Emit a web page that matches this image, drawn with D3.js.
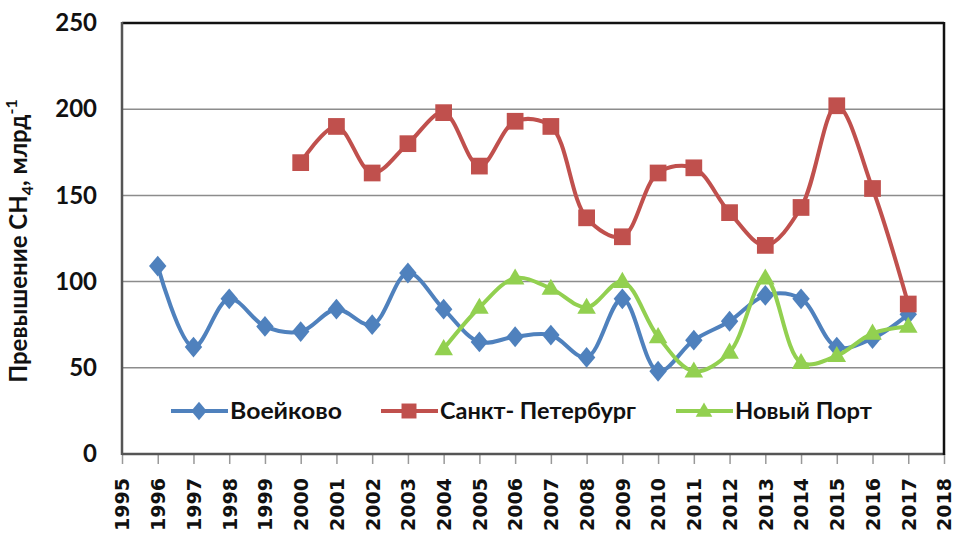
<!DOCTYPE html>
<html><head><meta charset="utf-8">
<script src="https://cdn.jsdelivr.net/npm/d3@7"></script>
<style>body{margin:0;background:#fff}svg{display:block}</style>
</head><body>
<svg id="c" width="956" height="533"></svg>
<script>
const years = [1995,1996,1997,1998,1999,2000,2001,2002,2003,2004,2005,2006,2007,2008,2009,2010,2011,2012,2013,2014,2015,2016,2017,2018];
const yTicks = [0,50,100,150,200,250];
const voeikovoYears = [1996,1997,1998,1999,2000,2001,2002,2003,2004,2005,2006,2007,2008,2009,2010,2011,2012,2013,2014,2015,2016,2017];
const voeikovo = [109,62,90,74,71,84,75,105,84,65,68,69,56,90,48,66,77,92,90,62,67,81];
const spbYears = [2000,2001,2002,2003,2004,2005,2006,2007,2008,2009,2010,2011,2012,2013,2014,2015,2016,2017];
const spb = [169,190,163,180,198,167,193,190,137,126,163,166,140,121,143,202,154,87];
const nportYears = [2004,2005,2006,2007,2008,2009,2010,2011,2012,2013,2014,2015,2016,2017];
const nport = [61,85,102,96,85,100,68,48,59,102,53,57,70,74];
const seriesNames = ["Воейково","Санкт- Петербург","Новый Порт"];
const colors = ["#4F81BD","#C0504D","#92D050"];

const svg = d3.select("#c");
const L=122,R=944,T=23,B=454;
const x = d3.scaleLinear().domain([1995,2018]).range([L,R]);
const y = d3.scaleLinear().domain([0,250]).range([B,T]);
const font = "Lato, 'Open Sans', sans-serif";

// gridlines
svg.append("g").selectAll("line").data(yTicks.filter(v=>v>0&&v<250)).join("line")
  .attr("x1",L).attr("x2",R).attr("y1",d=>y(d)).attr("y2",d=>y(d))
  .attr("stroke","#8c8c8c").attr("stroke-width",1.5);

// y axis
const ya = svg.append("g").attr("transform",`translate(${L},0)`)
  .call(d3.axisLeft(y).tickValues(yTicks).tickSize(0).tickPadding(25));
ya.select(".domain").remove();
ya.selectAll("text").attr("font-family",font).attr("font-weight","bold").attr("font-size",24).attr("fill","#111");

// x axis
const xa = svg.append("g").attr("transform",`translate(0,${B})`)
  .call(d3.axisBottom(x).tickValues(years).tickFormat(d3.format("d")).tickSize(10).tickSizeOuter(0));
xa.select(".domain").remove();
xa.selectAll(".tick line").attr("stroke","#999").attr("stroke-width",1.5);
xa.selectAll("text").attr("font-family","'DejaVu Sans', sans-serif").attr("font-weight","bold").attr("font-size",19).attr("fill","#111")
  .attr("transform","rotate(-90)").attr("text-anchor","end").attr("x",-24).attr("y",0).attr("dy","0.36em");

// frame
svg.append("line").attr("x1",L).attr("x2",R).attr("y1",B).attr("y2",B).attr("stroke","#555").attr("stroke-width",2.5);
svg.append("line").attr("x1",L).attr("x2",R).attr("y1",T).attr("y2",T).attr("stroke","#111").attr("stroke-width",2.5);
svg.append("line").attr("x1",L).attr("x2",L).attr("y1",T-1).attr("y2",B+1).attr("stroke","#555").attr("stroke-width",2.5);
svg.append("line").attr("x1",R).attr("x2",R).attr("y1",T-1).attr("y2",B+1).attr("stroke","#111").attr("stroke-width",2.5);

// y title
svg.append("text").attr("transform","translate(27,241) rotate(-90)").attr("text-anchor","middle")
  .attr("font-family",font).attr("font-weight","bold").attr("font-size",24).attr("fill","#111")
  .call(t=>{
    t.append("tspan").text("Превышение CH");
    t.append("tspan").attr("font-size",16).attr("dy",6).text("4");
    t.append("tspan").attr("dy",-6).text(", млрд");
    t.append("tspan").attr("font-size",16).attr("dy",-10).text("-1");
  });

const line = d3.line().x(d=>x(d[0])).y(d=>y(d[1])).curve(d3.curveCatmullRom.alpha(0.5));
const sym = [d3.symbolDiamond, d3.symbolSquare, d3.symbolTriangle];
const symSize = [125, 280, 150];
const symT = k => k===0 ? " scale(1.45,1)" : (k===2 ? " translate(0,1)" : "");
const data = [
  voeikovoYears.map((yr,i)=>[yr,voeikovo[i]]),
  spbYears.map((yr,i)=>[yr,spb[i]]),
  nportYears.map((yr,i)=>[yr,nport[i]])
];
[0,1,2].forEach(k=>{
  const g = svg.append("g");
  g.append("path").datum(data[k]).attr("d",line).attr("fill","none").attr("stroke",colors[k]).attr("stroke-width",4);
  g.selectAll("path.m").data(data[k]).join("path").attr("class","m")
    .attr("transform",d=>`translate(${x(d[0])},${y(d[1])})${symT(k)}`)
    .attr("d",d3.symbol(sym[k],symSize[k])).attr("fill",colors[k]);
});

// legend
const legX = [171, 381, 676];
const legW = [112, 196, 137];
const legY = 411;
seriesNames.forEach((n,k)=>{
  const g = svg.append("g");
  g.append("line").attr("x1",legX[k]).attr("x2",legX[k]+57).attr("y1",legY).attr("y2",legY).attr("stroke",colors[k]).attr("stroke-width",4);
  g.append("path").attr("transform",`translate(${legX[k]+28},${legY})${symT(k)}`)
    .attr("d",d3.symbol(sym[k],symSize[k]*0.8)).attr("fill",colors[k]);
  g.append("text").attr("x",legX[k]+59).attr("y",legY).attr("dy","0.36em")
    .attr("font-family",font).attr("font-weight","bold").attr("font-size",23).attr("fill","#111")
    .attr("textLength",legW[k]).attr("lengthAdjust","spacingAndGlyphs").text(n);
});
</script>
</body></html>
